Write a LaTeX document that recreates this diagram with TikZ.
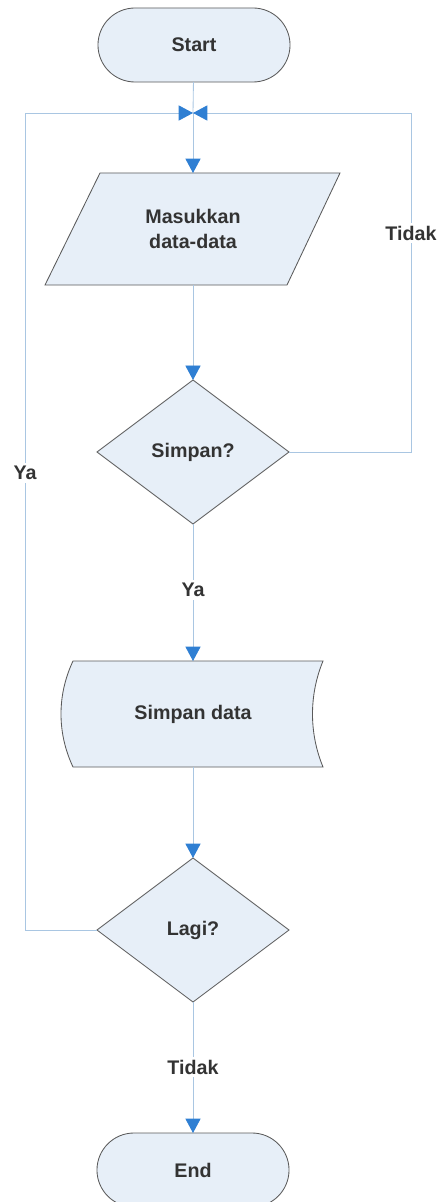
\documentclass[tikz,border=0pt]{standalone}
\usepackage{fontspec}
\setmainfont{Liberation Sans}
\usetikzlibrary{arrows.meta,shapes.geometric}
\definecolor{boxfill}{HTML}{E7EFF8}
\definecolor{boxline}{HTML}{5A5A5A}
\definecolor{linkblue}{HTML}{A9C6E2}
\definecolor{tipblue}{HTML}{2F7FD3}
\definecolor{txt}{HTML}{333333}
\tikzset{
  box/.style={draw=boxline, fill=boxfill, line width=0.6pt, text=txt, inner sep=0pt, outer sep=0pt,
    font=\fontsize{14}{17.5}\selectfont\bfseries, align=center},
  outline/.style={draw=boxline, fill=boxfill, line width=0.6pt},
  terminal/.style={box, rectangle, rounded corners=0.925cm, minimum width=4.8cm, minimum height=1.85cm},
  textbox/.style={box, rectangle, draw=none, fill=none},
  decision/.style={box, diamond, minimum width=4.8cm, minimum height=3.6cm},
  link/.style={draw=linkblue, line width=0.6pt},
  arr/.style={link, -{Triangle[length=0.36cm, width=0.38cm, color=tipblue]}},
  lbl/.style={fill=white, text=txt, inner sep=2pt, font=\fontsize{14}{17}\selectfont\bfseries}
}
\begin{document}
\begin{tikzpicture}[x=0.025cm, y=-0.025cm]
  \useasboundingbox (0,0) rectangle (439,1202);
  % shapes
  \node[terminal] (start) at (194,45) {Start};
  \coordinate (join) at (193,113);
  % input parallelogram
  \filldraw[outline] (100,173) -- (340,173) -- (287,285) -- (45,285) -- cycle;
  \node[textbox, minimum height=2.8cm] (input) at (193,229) {Masukkan\\data-data};
  \node[decision] (ask) at (193,452) {Simpan?};
  % stored data shape
  \filldraw[outline]
    (73,661) -- (323,661) .. controls (309,695) and (309,733) .. (323,767)
    -- (73,767) .. controls (57,733) and (57,695) .. (73,661) -- cycle;
  \node[textbox, minimum height=2.65cm] (save) at (193,714) {Simpan data};
  \node[decision] (again) at (193,930) {Lagi?};
  \node[terminal] (stop) at (193,1170) {End};
  % corners of the loops
  \coordinate (rtop) at (411,113);
  \coordinate (rbot) at (411,452);
  \coordinate (ltop) at (25,113);
  \coordinate (lbot) at (25,930);
  % connectors
  \draw[link] (start) -- (join);
  \draw[arr] (join) -- (input);
  \draw[arr] (input) -- (ask);
  \draw[arr] (ask) -- (save);
  \draw[arr] (save) -- (again);
  \draw[arr] (again) -- (stop);
  \draw[link] (ask.east) -- (rbot) -- (rtop);
  \draw[arr] (rtop) -- (join);
  \draw[link] (again.west) -- (lbot) -- (ltop);
  \draw[arr] (ltop) -- (join);
  % labels
  \node[lbl] (noA) at (411,233) {Tidak};
  \node[lbl] (yesA) at (193,590) {Ya};
  \node[lbl] (yesB) at (25,473) {Ya};
  \node[lbl] (noB) at (193,1067) {Tidak};
\end{tikzpicture}
\end{document}
